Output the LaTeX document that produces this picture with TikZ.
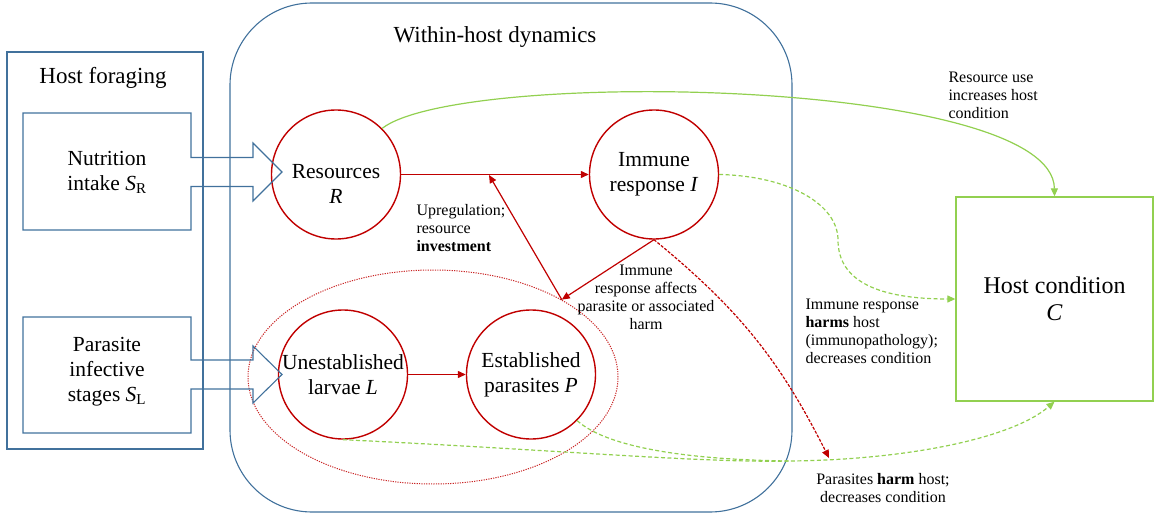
\documentclass[tikz,border=0pt]{standalone}
\usepackage{fontspec}
\setmainfont{Liberation Serif}
\usetikzlibrary{arrows.meta,positioning,calc,shapes.geometric}
\definecolor{boxblue}{RGB}{65,113,156}
\definecolor{darkred}{RGB}{192,0,0}
\definecolor{leafgreen}{RGB}{146,208,80}

\begin{document}
\begin{tikzpicture}[x=1pt, y=-1pt,
    big/.style={font=\fontsize{21.5}{25}\selectfont, align=center},
    title/.style={font=\fontsize{23}{27}\selectfont, align=center},
    small/.style={font=\fontsize{16}{18}\selectfont},
    boxline/.style={draw=boxblue, line width=1.1pt},
    compart/.style={circle, draw=darkred, line width=1.4pt, minimum size=129pt, inner sep=0pt, big},
    redarrow/.style={darkred, line width=1.2pt, -{Triangle[length=8pt,width=7pt]}},
    greenarrow/.style={leafgreen, line width=1.2pt, -{Triangle[length=8pt,width=7pt]}},
    reddash/.style={dash pattern=on 3pt off 1.5pt},
    greendash/.style={dash pattern=on 4pt off 2.5pt}]
    \useasboundingbox (0,0) rectangle (1154,516);

    % host foraging
    \draw[boxline] (7,52) rectangle (203,449);
    \node[title] (forage) at (103,78) {Host foraging};

    % within-host box
    \draw[boxline, rounded corners=82pt] (230,3) rectangle (792,512);
    \node[title] (within) at (495,37) {Within-host dynamics};

    % compartments
    \node[compart] (R) at (336,174.5) {};
    \node[big] (Rlab) at (336,183.5) {Resources\\\textit{R}};
    \node[compart] (I) at (654,174.5) {Immune\\response \textit{I}};
    \node[compart] (L) at (343,374.5) {Unestablished\\larvae \textit{L}};
    \node[compart] (P) at (531,374.5) {Established\\parasites \textit{P}};
    \node[ellipse, draw=darkred!85, line width=1pt, dash pattern=on 1.2pt off 1.2pt,
          minimum width=370pt, minimum height=214pt, inner sep=0pt] (para) at (433,377) {};

    % inputs
    \node[big] (nutr) at (107,172) {Nutrition\\intake \textit{S}\textsubscript{R}};
    \draw[boxline] (23,113) -- (191,113) -- (191,157.5) -- (253,157.5) -- (253,143)
        -- (282,172) -- (253,201) -- (253,186.5) -- (191,186.5) -- (191,230) -- (23,230) -- cycle;
    \node[big] (infect) at (107,372) {Parasite\\infective\\stages \textit{S}\textsubscript{L}};
    \draw[boxline] (23,317) -- (191,317) -- (191,360) -- (253,360) -- (253,346)
        -- (282,374.5) -- (253,403) -- (253,389) -- (191,389) -- (191,433) -- (23,433) -- cycle;

    % host condition
    \node[draw=leafgreen, line width=1.3pt, minimum width=197pt, minimum height=204pt,
          font=\fontsize{24}{27}\selectfont, align=center] (C) at (1054.5,299) {Host condition\\\textit{C}};

    % red links
    \coordinate (upr) at (489,175);
    \coordinate (harm) at (829,458);
    \draw[redarrow] (R) -- (I);
    \draw[redarrow] (L) -- (P);
    \draw[redarrow] (para.31) -- (upr);
    \draw[redarrow] (I.south) -- (para.31);
    \draw[redarrow, reddash] (I.south) to[bend left=12] (harm);

    % green links
    \coordinate (mrg) at (790,461);
    \draw[greenarrow] (R.45) .. controls (460,68) and (1053,78) .. (C.north);
    \draw[greenarrow, greendash] (I.east) .. controls (790,176) and (838,205) .. (838,240)
        .. controls (838,282) and (880,299) .. (C.west);
    \draw[greenarrow, greendash] (L.south) .. controls (560,450) and (700,463) .. (mrg)
        .. controls (900,460) and (1010,440) .. (C.south);
    \draw[leafgreen, line width=1.2pt, greendash] (P.-45) .. controls (610,450) and (700,460) .. (mrg);

    % labels
    \node[small, anchor=west, align=left] (upreg) at (413,228) {Upregulation;\\resource\\\textbf{investment}};
    \node[small, align=center] (affects) at (646,297) {Immune\\response affects\\parasite or associated\\harm};
    \node[small, anchor=west, align=left] (resuse) at (945,95) {Resource use\\increases host\\condition};
    \node[small, anchor=west, align=left] (immharm) at (802,331) {Immune response\\\textbf{harms} host\\(immunopathology);\\decreases condition};
    \node[small, align=center] (parharm) at (883,488) {Parasites \textbf{harm} host;\\decreases condition};
\end{tikzpicture}
\end{document}
